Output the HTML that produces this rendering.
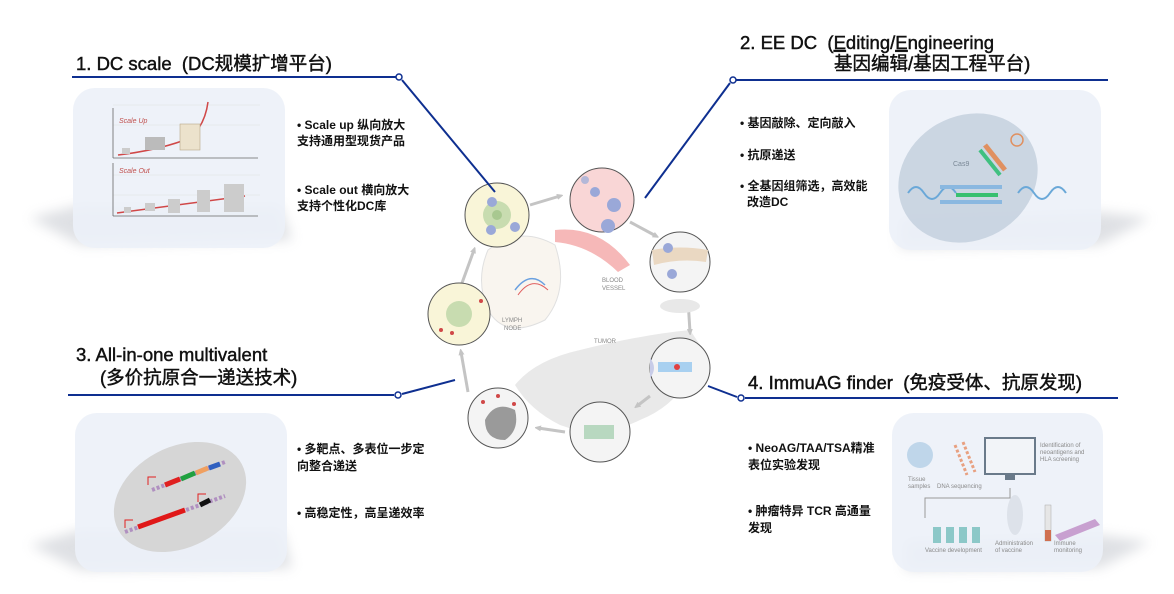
<!DOCTYPE html>
<html><head><meta charset="utf-8"><style>
body{margin:0;width:1174px;height:594px;background:#fff;overflow:hidden;font-family:"Liberation Sans","Noto Sans CJK SC",sans-serif}
svg{position:absolute;left:0;top:0}
.t{font-family:"Liberation Sans","Noto Sans CJK SC",sans-serif}
</style></head><body>
<svg width="1174" height="594" viewBox="0 0 1174 594">
<defs>
<filter id="bl" x="-20%" y="-50%" width="140%" height="200%"><feGaussianBlur stdDeviation="6"/></filter>
<marker id="ah" markerWidth="6" markerHeight="6" refX="3" refY="3" orient="auto" markerUnits="userSpaceOnUse"><path d="M0 0 L7 3 L0 6Z" fill="#c4c4c4"/></marker>
</defs>
<g filter="url(#bl)" fill="#b8bcc4" opacity="0.45">
<path d="M30 218 L80 205 L280 205 L292 240 L80 245 Z"/>
<path d="M30 545 L80 530 L282 530 L292 568 L80 570 Z"/>
<path d="M900 218 L1100 212 L1150 218 L1100 245 L900 248 Z"/>
<path d="M905 540 L1100 535 L1150 542 L1100 568 L905 570 Z"/>
</g>
<rect x="73" y="88" width="212" height="160" rx="22" fill="#ecf1f8" opacity="0.9"/>
<rect x="889" y="90" width="212" height="160" rx="22" fill="#ecf1f8" opacity="0.9"/>
<rect x="75" y="413" width="212" height="159" rx="22" fill="#ecf1f8" opacity="0.9"/>
<rect x="892" y="413" width="211" height="159" rx="22" fill="#ecf1f8" opacity="0.9"/>

<g stroke="#e0e0e0" stroke-width="0.5">
<line x1="113" y1="105" x2="260" y2="105"/><line x1="113" y1="125" x2="260" y2="125"/><line x1="113" y1="175" x2="260" y2="175"/><line x1="113" y1="195" x2="260" y2="195"/>
</g>
<g stroke="#666" stroke-width="0.8"><line x1="113" y1="108" x2="113" y2="158"/><line x1="113" y1="158" x2="258" y2="158"/><line x1="113" y1="163" x2="113" y2="216"/><line x1="113" y1="216" x2="258" y2="216"/></g>
<text x="119" y="123" font-size="7" fill="#c0504d" font-style="italic">Scale Up</text>
<text x="119" y="173" font-size="7" fill="#c0504d" font-style="italic">Scale Out</text>
<path d="M118 155 Q160 150 190 138 Q205 125 208 102" stroke="#d04848" stroke-width="1.5" fill="none"/>
<rect x="122" y="148" width="8" height="6" fill="#ccc"/>
<rect x="145" y="137" width="20" height="13" fill="#bbb"/>
<rect x="180" y="124" width="20" height="26" fill="#ece2cc" stroke="#b9a988" stroke-width="0.6"/>
<path d="M117 213 L245 196" stroke="#d04848" stroke-width="1.5"/>
<rect x="124" y="207" width="7" height="6" fill="#ccc"/><rect x="145" y="203" width="10" height="8" fill="#ccc"/><rect x="168" y="199" width="12" height="14" fill="#ccc"/><rect x="197" y="190" width="13" height="22" fill="#ccc"/><rect x="224" y="184" width="20" height="28" fill="#ccc"/>

<ellipse cx="968" cy="178" rx="72" ry="62" transform="rotate(-30 968 178)" fill="#c2cedc" opacity="0.8"/>
<text x="953" y="166" font-size="7" fill="#7a8896">Cas9</text>
<path d="M908 193 q8 -12 16 0 q8 12 16 0 q8 -12 16 0 M1018 193 q8-12 16 0 q8 12 16 0 q8-12 16 0" stroke="#6aa8d8" stroke-width="2" fill="none"/>
<rect x="940" y="185" width="62" height="4" fill="#8ab8e0"/><rect x="940" y="200" width="62" height="4" fill="#8ab8e0"/>
<rect x="956" y="193" width="42" height="4" fill="#38c070"/>
<path d="M985 145 L1005 170" stroke="#e09060" stroke-width="5"/><path d="M980 150 L1000 175" stroke="#40c080" stroke-width="4"/>
<circle cx="1017" cy="140" r="6" fill="none" stroke="#e09060" stroke-width="1.5"/>

<ellipse cx="180" cy="497" rx="70" ry="50" transform="rotate(-28 180 497)" fill="#d6d6d6"/>
<path d="M152 490 L225 462" stroke="#b090c0" stroke-width="4" stroke-dasharray="3 2"/>
<path d="M165 485 L180 479" stroke="#e02020" stroke-width="5"/><path d="M181 479 L195 473" stroke="#20a040" stroke-width="5"/><path d="M196 473 L208 468" stroke="#f0a060" stroke-width="5"/><path d="M209 468 L220 464" stroke="#3060c0" stroke-width="5"/>
<path d="M125 532 L225 496" stroke="#b090c0" stroke-width="4" stroke-dasharray="3 2"/>
<path d="M138 527 L185 510" stroke="#e01818" stroke-width="5"/><path d="M200 505 L210 500" stroke="#111" stroke-width="5"/>
<path d="M148 485 v-8 h8 M125 528 v-8 h8 M198 502 v-8 h8" stroke="#e02020" stroke-width="1" fill="none"/>

<circle cx="920" cy="455" r="13" fill="#bfd6ea"/>
<path d="M955 445 l12 30 M963 442 l12 30" stroke="#e8a080" stroke-width="3" stroke-dasharray="3 2"/>
<rect x="985" y="438" width="50" height="36" fill="#f2f4f8" stroke="#6a7a8a" stroke-width="2"/>
<rect x="1005" y="474" width="10" height="6" fill="#6a7a8a"/>
<text x="1040" y="447" font-size="6" fill="#8a8a8a">Identification of</text><text x="1040" y="454" font-size="6" fill="#8a8a8a">neoantigens and</text><text x="1040" y="461" font-size="6" fill="#8a8a8a">HLA screening</text>
<text x="908" y="481" font-size="6" fill="#8a8a8a">Tissue</text><text x="908" y="488" font-size="6" fill="#8a8a8a">samples</text><text x="937" y="488" font-size="6" fill="#8a8a8a">DNA sequencing</text>
<path d="M1010 488 v10 h-85 v20" stroke="#999" fill="none"/>
<g fill="#8cc8c8"><rect x="933" y="527" width="8" height="16"/><rect x="946" y="527" width="8" height="16"/><rect x="959" y="527" width="8" height="16"/><rect x="972" y="527" width="8" height="16"/></g>
<ellipse cx="1015" cy="515" rx="8" ry="20" fill="#dde2ea"/>
<rect x="1045" y="505" width="6" height="36" fill="#e6e6e6" stroke="#aaa" stroke-width="0.5"/><rect x="1045" y="530" width="6" height="11" fill="#d07050"/>
<path d="M1055 535 l40 -16 l5 6 l-40 16z" fill="#c8a0d0"/>
<text x="925" y="552" font-size="6" fill="#8a8a8a">Vaccine development</text><text x="995" y="545" font-size="6" fill="#8a8a8a">Administration</text><text x="995" y="552" font-size="6" fill="#8a8a8a">of vaccine</text><text x="1054" y="545" font-size="6" fill="#8a8a8a">Immune</text><text x="1054" y="552" font-size="6" fill="#8a8a8a">monitoring</text>

<path d="M515 385 Q535 360 580 350 Q640 335 690 330 L700 345 Q690 400 640 420 Q600 440 560 425 Q530 410 515 385 Z" fill="#e9e9e9"/>
<path d="M488 250 Q520 225 555 245 Q570 290 545 320 Q505 340 488 310 Q475 280 488 250Z" fill="#f9f5ef" stroke="#e0e0e0"/>
<path d="M515 290 Q530 270 545 285" stroke="#6aa0e0" stroke-width="1.5" fill="none"/><path d="M518 295 Q532 275 548 290" stroke="#e06060" stroke-width="1" fill="none"/>
<path d="M555 230 Q600 225 630 265 L618 272 Q590 245 555 242Z" fill="#f6b8b8"/>
<text x="602" y="282" font-size="6" fill="#888">BLOOD</text><text x="602" y="290" font-size="6" fill="#888">VESSEL</text>
<text x="502" y="322" font-size="6" fill="#888">LYMPH</text><text x="504" y="330" font-size="6" fill="#888">NODE</text>
<text x="594" y="343" font-size="6" fill="#888">TUMOR</text>
<g stroke="#c4c4c4" stroke-width="3" fill="none" marker-end="url(#ah)">
<path d="M530 205 L560 196"/><path d="M630 222 L656 236"/><path d="M688 300 L690 332"/><path d="M650 396 L637 406"/><path d="M565 432 L538 428"/><path d="M468 392 L461 352"/><path d="M462 283 L474 250"/>
</g>
<circle cx="497" cy="215" r="32" fill="#f9f5d8" stroke="#555"/><circle cx="497" cy="215" r="14" fill="#c8dcb0"/><circle cx="497" cy="215" r="5" fill="#a8c890"/><circle cx="492" cy="202" r="5" fill="#9aa8d8"/><circle cx="491" cy="230" r="5" fill="#9aa8d8"/><circle cx="515" cy="227" r="5" fill="#9aa8d8"/>
<circle cx="602" cy="200" r="32" fill="#f9d6d6" stroke="#555"/><circle cx="595" cy="192" r="5" fill="#9aa8d8"/><circle cx="614" cy="205" r="7" fill="#9aa8d8"/><circle cx="608" cy="226" r="7" fill="#9aa8d8"/><circle cx="585" cy="180" r="4" fill="#b4b8d8"/>
<circle cx="680" cy="262" r="30" fill="#f4f4f4" stroke="#555"/><path d="M652 250 Q680 245 708 250 L706 262 Q680 258 654 265Z" fill="#ead8c2"/><circle cx="668" cy="248" r="5" fill="#9aa8d8"/><circle cx="672" cy="274" r="5" fill="#9aa8d8"/>
<ellipse cx="680" cy="306" rx="20" ry="7" fill="#e8e8e8"/>
<circle cx="680" cy="368" r="30" fill="#f4f4f4" stroke="#555"/><path d="M650 358 q8 10 0 20" fill="#c8cce8"/><rect x="658" y="362" width="34" height="10" fill="#a8d0f0"/><circle cx="677" cy="367" r="3" fill="#e04040"/>
<circle cx="600" cy="432" r="30" fill="#f4f4f4" stroke="#555"/><rect x="584" y="425" width="30" height="14" fill="#b8d8c0"/>
<circle cx="498" cy="418" r="30" fill="#f4f4f4" stroke="#555"/><path d="M485 420 Q495 400 515 410 Q520 430 505 440 Q485 440 485 420Z" fill="#9a9a9a"/><circle cx="483" cy="402" r="2" fill="#d04848"/><circle cx="498" cy="396" r="2" fill="#d04848"/><circle cx="514" cy="404" r="2" fill="#d04848"/>
<circle cx="459" cy="314" r="31" fill="#f9f5d8" stroke="#555"/><circle cx="459" cy="314" r="13" fill="#c8dcb0"/><circle cx="481" cy="301" r="2" fill="#d04848"/><circle cx="441" cy="330" r="2" fill="#d04848"/><circle cx="452" cy="333" r="2" fill="#d04848"/>

<g stroke="#0e2f90" stroke-width="2" fill="none">
<line x1="72" y1="77" x2="396" y2="77"/><line x1="402" y1="80" x2="495" y2="192"/>
<line x1="736" y1="80" x2="1108" y2="80"/><line x1="730" y1="83" x2="645" y2="198"/>
<line x1="68" y1="395" x2="394" y2="395"/><line x1="402" y1="394" x2="455" y2="380"/>
<line x1="745" y1="398" x2="1118" y2="398"/><line x1="737" y1="397" x2="708" y2="386"/>
</g>
<g fill="#fff" stroke="#0e2f90" stroke-width="1.5"><circle cx="399" cy="77" r="3"/><circle cx="733" cy="80" r="3"/><circle cx="398" cy="395" r="3"/><circle cx="741" cy="398" r="3"/></g>

<g class="t" font-size="18.5" fill="#111" stroke="#111" stroke-width="0.45">
<text x="76" y="70">1. DC scale&#160;&#160;(DC规模扩增平台)</text>
<text x="740" y="49">2. EE DC&#160;&#160;(<tspan text-decoration="underline">E</tspan>diting/<tspan text-decoration="underline">E</tspan>ngineering</text>
<text x="834" y="70">基因编辑/基因工程平台)</text>
<text x="76" y="361">3. All-in-one multivalent</text>
<text x="100" y="384">(多价抗原合一递送技术)</text>
<text x="748" y="389">4. ImmuAG finder&#160;&#160;(免疫受体、抗原发现)</text>
</g>
<g class="t" font-size="12" font-weight="bold" fill="#111">
<text x="297" y="129">• Scale up 纵向放大</text><text x="297" y="145">支持通用型现货产品</text>
<text x="297" y="194">• Scale out 横向放大</text><text x="297" y="210">支持个性化DC库</text>
<text x="740" y="127">• 基因敲除、定向敲入</text>
<text x="740" y="159">• 抗原递送</text>
<text x="740" y="190">• 全基因组筛选，高效能</text><text x="747" y="206">改造DC</text>
<text x="297" y="453">• 多靶点、多表位一步定</text><text x="297" y="470">向整合递送</text>
<text x="297" y="517">• 高稳定性，高呈递效率</text>
<text x="748" y="452">• NeoAG/TAA/TSA精准</text><text x="748" y="469">表位实验发现</text>
<text x="748" y="515">• 肿瘤特异 TCR 高通量</text><text x="748" y="532">发现</text>
</g>
</svg>
</body></html>
